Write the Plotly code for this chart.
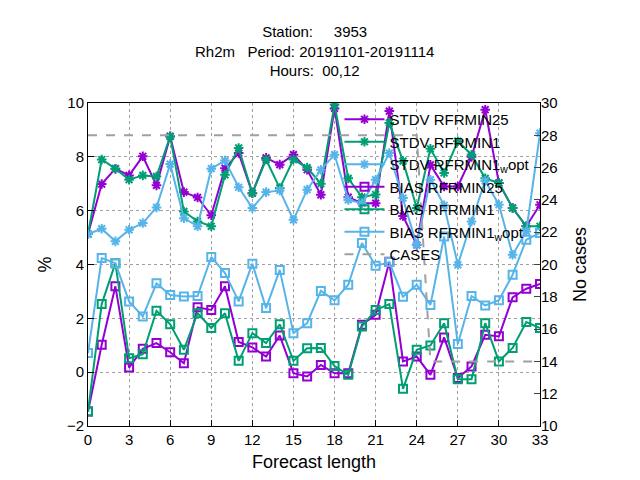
import plotly.graph_objects as go

hours = list(range(34))

stdv_rfrmin25 = [5.13, 6.99, 7.56, 7.31, 8.02, 6.94, 8.76, 6.69, 6.49, 5.83, 7.58, 8.14, 6.65, 7.96, 7.71, 8.08, 7.52,
                 6.59, 9.8, 6.5, 6.28, 6.28, 9.7, 5.8, 4.73, 7.7, 6.9, 6.9, 8.0, 9.75, 7.03, 6.1, 5.42, 6.22]
stdv_rfrmin1 = [5.13, 7.9, 7.56, 7.15, 7.31, 7.27, 8.76, 5.97, 5.6, 5.42, 7.33, 8.33, 6.65, 7.9, 6.84, 7.9, 7.6,
                7.0, 9.94, 7.2, 6.5, 6.6, 9.26, 7.84, 6.1, 8.3, 7.4, 8.58, 8.08, 7.2, 7.03, 6.1, 5.42, 5.42]
stdv_rfrmin1_wopt = [5.13, 5.33, 4.86, 5.29, 5.54, 6.12, 7.73, 5.72, 5.42, 7.56, 7.86, 6.87, 6.1, 6.69, 6.75, 5.66, 6.78,
                     7.52, 8.08, 6.4, 6.28, 7.15, 8.14, 6.47, 4.73, 7.15, 6.2, 3.99, 5.6, 7.11, 6.22, 4.36, 5.23, 8.88]
bias_rfrmin25 = [-1.46, 1.02, 3.19, 0.17, 0.87, 1.08, 0.74, 0.33, 2.41, 2.31, 3.19, 1.12, 0.92, 0.58, 1.36, -0.04, -0.16,
                 0.27, -0.04, -0.04, 1.76, 2.13, 4.1, 0.4, 0.58, -0.1, 1.29, -0.22, 0.21, 1.39, 1.33, 2.78, 3.1, 3.28]
bias_rfrmin1 = [-1.46, 2.53, 4.05, 0.52, 0.67, 2.28, 1.78, 0.83, 2.19, 1.64, 2.19, 0.42, 1.45, 1.08, 1.78, 0.42, 0.89,
                0.9, 0.23, -0.1, 1.7, 2.31, 2.53, -0.62, 0.83, 0.99, 1.82, -0.26, -0.26, 1.82, 0.4, 0.9, 1.86, 1.64]
bias_rfrmin1_wopt = [0.71, 4.24, 4.05, 2.63, 2.07, 3.3, 2.87, 2.81, 2.83, 4.28, 3.68, 2.63, 4.03, 2.38, 3.8, 1.45, 1.82,
                     3.02, 2.67, 3.25, 4.8, 3.95, 4.09, 2.8, 3.25, 2.5, 5.04, 1.05, 2.83, 2.48, 2.67, 3.62, 4.92, 5.17]
cases = [28] * 25 + [14] * 9

purple = "#9400D3"
green = "#009E73"
blue = "#56B4E9"

series = [
    ("STDV RFRMIN25", stdv_rfrmin25, purple, "asterisk-open"),
    ("STDV RFRMIN1", stdv_rfrmin1, green, "asterisk-open"),
    ("STDV RFRMIN1<sub>w</sub>opt", stdv_rfrmin1_wopt, blue, "asterisk-open"),
    ("BIAS RFRMIN25", bias_rfrmin25, purple, "square-open"),
    ("BIAS RFRMIN1", bias_rfrmin1, green, "square-open"),
    ("BIAS RFRMIN1<sub>w</sub>opt", bias_rfrmin1_wopt, blue, "square-open"),
]

fig = go.Figure()

for name, vals, color, sym in series:
    fig.add_trace(go.Scatter(
        x=hours, y=vals, mode="lines+markers", name=name,
        line=dict(color=color, width=2),
        marker=dict(symbol=sym, size=8, color=color, line=dict(color=color, width=2)),
    ))

fig.add_trace(go.Scatter(
    x=hours, y=cases, mode="lines", name="CASES", yaxis="y2",
    line=dict(color="#A0A0A0", width=2, dash="dash"),
))

axis_common = dict(
    showline=True, linecolor="black", linewidth=1, mirror=True,
    ticks="inside", ticklen=6, tickcolor="black",
    showgrid=True, gridcolor="#A0A0A0", griddash="dot", gridwidth=1,
    zeroline=False, tickfont=dict(size=15),
)

# title as annotation so it stays inside the page
fig.add_annotation(
    text="Station:     3953<br>Rh2m   Period: 20191101-20191114<br>Hours:  00,12",
    xref="paper", yref="paper", x=0.5, y=1.0, yshift=82, xanchor="center", yanchor="top",
    showarrow=False, font=dict(size=15),
)

fig.update_layout(
    width=640, height=480,
    plot_bgcolor="white", paper_bgcolor="white",
    font=dict(family="Liberation Sans, Arial", size=15, color="black"),
    margin=dict(l=80, r=108, t=95, b=62, autoexpand=False),
    xaxis=dict(range=[0, 33], tickvals=list(range(0, 34, 3)),
               title=dict(text="Forecast length", standoff=8), **axis_common),
    yaxis=dict(range=[-2, 10], dtick=2, title=dict(text="%", standoff=10), **axis_common),
    yaxis2=dict(range=[10, 30], dtick=2, overlaying="y", side="right", showgrid=False,
                showline=False, ticks="inside", ticklen=6, tickfont=dict(size=15),
                title=dict(text="No cases", standoff=16), zeroline=False),
    legend=dict(x=0.99, y=1.0, xanchor="right", yanchor="top", bgcolor="rgba(0,0,0,0)",
                font=dict(size=15), tracegroupgap=0, itemwidth=40),
    showlegend=True,
)

fig.write_html("out.html")
